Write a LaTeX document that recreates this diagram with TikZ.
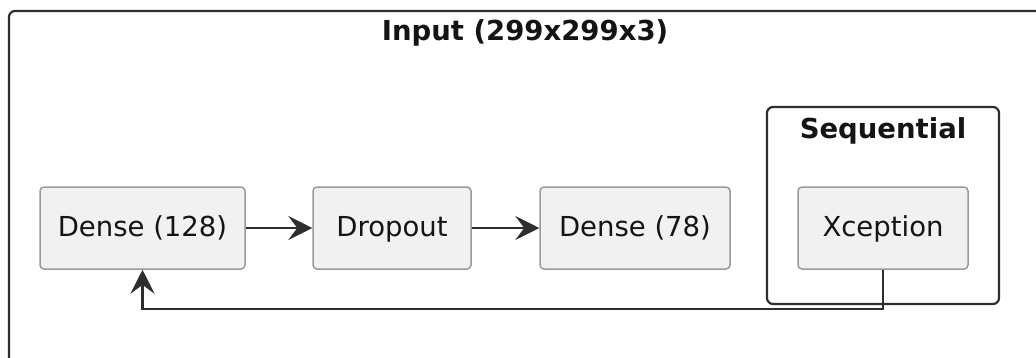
\documentclass[tikz,border=0pt]{standalone}
\usepackage{fontspec}
\setmainfont{DejaVu Sans}
\usetikzlibrary{arrows.meta,positioning}
\definecolor{boxfill}{HTML}{F1F1F1}
\definecolor{boxline}{HTML}{9A9A9A}
\definecolor{frameline}{HTML}{2E2E2E}
\definecolor{ink}{HTML}{141414}
\tikzset{
  layer/.style={draw=boxline, fill=boxfill, line width=1.5pt, rounded corners=4pt,
    minimum height=82pt, inner sep=0pt, text height=22pt, text depth=6pt,
    text=ink, font=\fontsize{27.5}{30}\selectfont},
  frame/.style={draw=frameline, line width=2.2pt, rounded corners=6pt},
  title/.style={text=ink, font=\fontsize{27.5}{30}\selectfont\bfseries, inner sep=0pt},
  flow/.style={draw=frameline, line width=2.2pt,
    -{Stealth[length=24pt,width=24pt,inset=9pt]}}
}
\begin{document}
\begin{tikzpicture}[x=1pt,y=-1pt]
  \useasboundingbox (0,0) rectangle (1036,357);
  \fill[white] (0,0) rectangle (1036,357);

  % outer container
  \draw[frame] (9,11) rectangle (1060,380);
  \node[title] (inputlbl) at (525,33) {Input (299x299x3)};

  % inner sequential container
  \draw[frame] (767,107) rectangle (999,304);
  \node[title] (seqlbl) at (883,131) {Sequential};

  % layers
  \node[layer, minimum width=205pt] (d128) at (142.5,228) {Dense (128)};
  \node[layer, minimum width=158pt] (drop) at (392,228) {Dropout};
  \node[layer, minimum width=190pt] (d78)  at (635,228) {Dense (78)};
  \node[layer, minimum width=170pt] (xcp)  at (883,228) {Xception};

  % connections
  \draw[flow] (d128) -- (drop);
  \draw[flow] (drop) -- (d78);
  \coordinate (turnA) at (883,309);
  \coordinate (turnB) at (142.5,309);
  \draw[flow] (xcp.south) -- (turnA) -- (turnB) -- (d128.south);
\end{tikzpicture}
\end{document}
